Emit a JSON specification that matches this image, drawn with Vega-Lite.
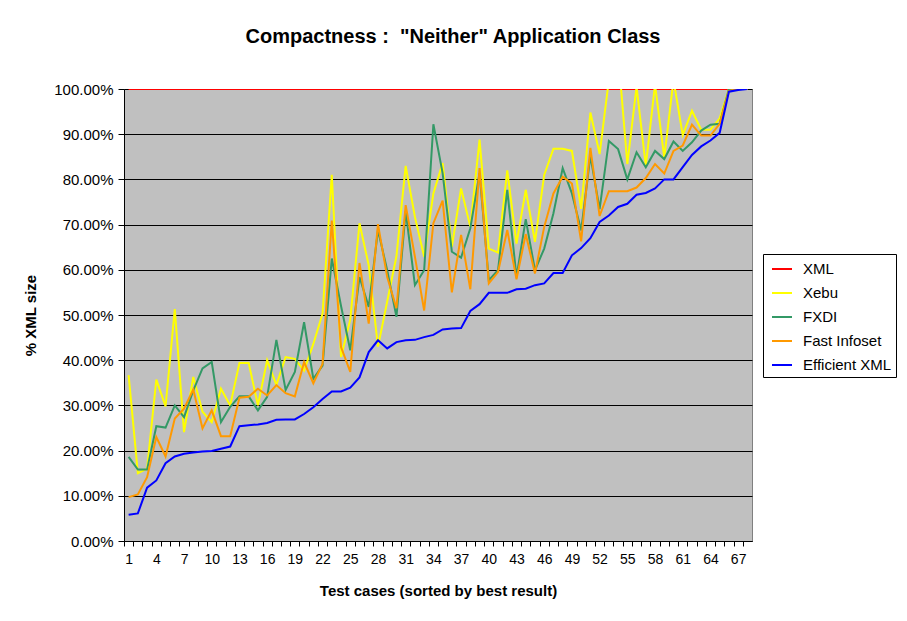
{
  "$schema": "https://vega.github.io/schema/vega-lite/v6.json",
  "width": 628,
  "height": 452,
  "autosize": {"type": "none"},
  "padding": {"left": 124, "top": 89, "right": 155, "bottom": 80},
  "background": "white",
  "config": {
    "view": {"fill": "#C0C0C0", "stroke": "#808080", "strokeWidth": 1},
    "font": "Liberation Sans"
  },
  "title": {
    "text": "Compactness :\u00a0 \"Neither\" Application Class",
    "fontSize": 20,
    "fontWeight": "bold",
    "font": "Liberation Sans",
    "color": "black",
    "anchor": "middle",
    "dx": 15,
    "offset": 35
  },
  "data": {
    "values": [
      {"k": 1, "XML": 1, "Xebu": 0.367, "FXDI": 0.186, "FI": 0.097, "EXI": 0.058},
      {"k": 2, "XML": 1, "Xebu": 0.150, "FXDI": 0.158, "FI": 0.103, "EXI": 0.061},
      {"k": 3, "XML": 1, "Xebu": 0.160, "FXDI": 0.158, "FI": 0.141, "EXI": 0.118},
      {"k": 4, "XML": 1, "Xebu": 0.357, "FXDI": 0.254, "FI": 0.230, "EXI": 0.134},
      {"k": 5, "XML": 1, "Xebu": 0.298, "FXDI": 0.251, "FI": 0.187, "EXI": 0.172},
      {"k": 6, "XML": 1, "Xebu": 0.513, "FXDI": 0.300, "FI": 0.271, "EXI": 0.187},
      {"k": 7, "XML": 1, "Xebu": 0.241, "FXDI": 0.274, "FI": 0.293, "EXI": 0.193},
      {"k": 8, "XML": 1, "Xebu": 0.363, "FXDI": 0.333, "FI": 0.335, "EXI": 0.196},
      {"k": 9, "XML": 1, "Xebu": 0.286, "FXDI": 0.382, "FI": 0.249, "EXI": 0.198},
      {"k": 10, "XML": 1, "Xebu": 0.263, "FXDI": 0.396, "FI": 0.289, "EXI": 0.199},
      {"k": 11, "XML": 1, "Xebu": 0.337, "FXDI": 0.263, "FI": 0.232, "EXI": 0.204},
      {"k": 12, "XML": 1, "Xebu": 0.300, "FXDI": 0.297, "FI": 0.232, "EXI": 0.209},
      {"k": 13, "XML": 1, "Xebu": 0.394, "FXDI": 0.320, "FI": 0.317, "EXI": 0.254},
      {"k": 14, "XML": 1, "Xebu": 0.394, "FXDI": 0.320, "FI": 0.319, "EXI": 0.256},
      {"k": 15, "XML": 1, "Xebu": 0.300, "FXDI": 0.289, "FI": 0.337, "EXI": 0.258},
      {"k": 16, "XML": 1, "Xebu": 0.400, "FXDI": 0.319, "FI": 0.322, "EXI": 0.261},
      {"k": 17, "XML": 1, "Xebu": 0.345, "FXDI": 0.445, "FI": 0.345, "EXI": 0.268},
      {"k": 18, "XML": 1, "Xebu": 0.407, "FXDI": 0.334, "FI": 0.327, "EXI": 0.269},
      {"k": 19, "XML": 1, "Xebu": 0.403, "FXDI": 0.374, "FI": 0.320, "EXI": 0.269},
      {"k": 20, "XML": 1, "Xebu": 0.377, "FXDI": 0.484, "FI": 0.396, "EXI": 0.281},
      {"k": 21, "XML": 1, "Xebu": 0.436, "FXDI": 0.359, "FI": 0.349, "EXI": 0.296},
      {"k": 22, "XML": 1, "Xebu": 0.503, "FXDI": 0.388, "FI": 0.392, "EXI": 0.314},
      {"k": 23, "XML": 1, "Xebu": 0.810, "FXDI": 0.625, "FI": 0.709, "EXI": 0.331},
      {"k": 24, "XML": 1, "Xebu": 0.407, "FXDI": 0.520, "FI": 0.429, "EXI": 0.331},
      {"k": 25, "XML": 1, "Xebu": 0.490, "FXDI": 0.422, "FI": 0.374, "EXI": 0.339},
      {"k": 26, "XML": 1, "Xebu": 0.703, "FXDI": 0.584, "FI": 0.615, "EXI": 0.362},
      {"k": 27, "XML": 1, "Xebu": 0.610, "FXDI": 0.518, "FI": 0.481, "EXI": 0.418},
      {"k": 28, "XML": 1, "Xebu": 0.430, "FXDI": 0.688, "FI": 0.701, "EXI": 0.444},
      {"k": 29, "XML": 1, "Xebu": 0.530, "FXDI": 0.599, "FI": 0.584, "EXI": 0.426},
      {"k": 30, "XML": 1, "Xebu": 0.630, "FXDI": 0.496, "FI": 0.515, "EXI": 0.440},
      {"k": 31, "XML": 1, "Xebu": 0.830, "FXDI": 0.730, "FI": 0.743, "EXI": 0.444},
      {"k": 32, "XML": 1, "Xebu": 0.717, "FXDI": 0.566, "FI": 0.629, "EXI": 0.445},
      {"k": 33, "XML": 1, "Xebu": 0.629, "FXDI": 0.599, "FI": 0.510, "EXI": 0.451},
      {"k": 34, "XML": 1, "Xebu": 0.769, "FXDI": 0.922, "FI": 0.703, "EXI": 0.456},
      {"k": 35, "XML": 1, "Xebu": 0.836, "FXDI": 0.814, "FI": 0.753, "EXI": 0.468},
      {"k": 36, "XML": 1, "Xebu": 0.651, "FXDI": 0.640, "FI": 0.550, "EXI": 0.470},
      {"k": 37, "XML": 1, "Xebu": 0.780, "FXDI": 0.627, "FI": 0.677, "EXI": 0.471},
      {"k": 38, "XML": 1, "Xebu": 0.695, "FXDI": 0.692, "FI": 0.557, "EXI": 0.509},
      {"k": 39, "XML": 1, "Xebu": 0.888, "FXDI": 0.814, "FI": 0.825, "EXI": 0.524},
      {"k": 40, "XML": 1, "Xebu": 0.647, "FXDI": 0.577, "FI": 0.570, "EXI": 0.549},
      {"k": 41, "XML": 1, "Xebu": 0.638, "FXDI": 0.599, "FI": 0.595, "EXI": 0.549},
      {"k": 42, "XML": 1, "Xebu": 0.820, "FXDI": 0.777, "FI": 0.688, "EXI": 0.549},
      {"k": 43, "XML": 1, "Xebu": 0.658, "FXDI": 0.584, "FI": 0.579, "EXI": 0.557},
      {"k": 44, "XML": 1, "Xebu": 0.777, "FXDI": 0.712, "FI": 0.679, "EXI": 0.558},
      {"k": 45, "XML": 1, "Xebu": 0.662, "FXDI": 0.599, "FI": 0.592, "EXI": 0.566},
      {"k": 46, "XML": 1, "Xebu": 0.810, "FXDI": 0.647, "FI": 0.695, "EXI": 0.570},
      {"k": 47, "XML": 1, "Xebu": 0.868, "FXDI": 0.725, "FI": 0.769, "EXI": 0.593},
      {"k": 48, "XML": 1, "Xebu": 0.868, "FXDI": 0.825, "FI": 0.806, "EXI": 0.593},
      {"k": 49, "XML": 1, "Xebu": 0.863, "FXDI": 0.769, "FI": 0.791, "EXI": 0.632},
      {"k": 50, "XML": 1, "Xebu": 0.735, "FXDI": 0.687, "FI": 0.663, "EXI": 0.648},
      {"k": 51, "XML": 1, "Xebu": 0.948, "FXDI": 0.852, "FI": 0.870, "EXI": 0.670},
      {"k": 52, "XML": 1, "Xebu": 0.856, "FXDI": 0.734, "FI": 0.719, "EXI": 0.706},
      {"k": 53, "XML": 1, "Xebu": 1.020, "FXDI": 0.885, "FI": 0.774, "EXI": 0.720},
      {"k": 54, "XML": 1, "Xebu": 1.080, "FXDI": 0.867, "FI": 0.774, "EXI": 0.739},
      {"k": 55, "XML": 1, "Xebu": 0.834, "FXDI": 0.800, "FI": 0.774, "EXI": 0.746},
      {"k": 56, "XML": 1, "Xebu": 1.005, "FXDI": 0.860, "FI": 0.782, "EXI": 0.766},
      {"k": 57, "XML": 1, "Xebu": 0.830, "FXDI": 0.827, "FI": 0.803, "EXI": 0.770},
      {"k": 58, "XML": 1, "Xebu": 1.010, "FXDI": 0.863, "FI": 0.834, "EXI": 0.780},
      {"k": 59, "XML": 1, "Xebu": 0.848, "FXDI": 0.845, "FI": 0.813, "EXI": 0.800},
      {"k": 60, "XML": 1, "Xebu": 1.020, "FXDI": 0.884, "FI": 0.863, "EXI": 0.800},
      {"k": 61, "XML": 1, "Xebu": 0.898, "FXDI": 0.863, "FI": 0.875, "EXI": 0.827},
      {"k": 62, "XML": 1, "Xebu": 0.952, "FXDI": 0.882, "FI": 0.921, "EXI": 0.854},
      {"k": 63, "XML": 1, "Xebu": 0.910, "FXDI": 0.908, "FI": 0.897, "EXI": 0.873},
      {"k": 64, "XML": 1, "Xebu": 0.910, "FXDI": 0.921, "FI": 0.897, "EXI": 0.886},
      {"k": 65, "XML": 1, "Xebu": 0.935, "FXDI": 0.923, "FI": 0.923, "EXI": 0.903},
      {"k": 66, "XML": 1, "Xebu": 1.000, "FXDI": 1.000, "FI": 0.996, "EXI": 0.994},
      {"k": 67, "XML": 1, "Xebu": 1.000, "FXDI": 1.000, "FI": 1.000, "EXI": 0.998},
      {"k": 68, "XML": 1, "Xebu": 1.000, "FXDI": 1.000, "FI": 1.000, "EXI": 1.000}
    ]
  },
  "encoding": {
    "x": {
      "field": "k",
      "type": "ordinal",
      "scale": {"type": "point", "padding": 0.5},
      "axis": {
        "title": "Test cases (sorted by best result)",
        "labelExpr": "(datum.value - 1) % 3 == 0 ? datum.label : ''",
        "labelAngle": 0,
        "labelOverlap": false,
        "labelFontSize": 14,
        "labelColor": "black",
        "labelPadding": 6,
        "tickOffset": -4.6176,
        "labelOffset": 4.6176,
        "tickSize": 5,
        "tickColor": "black",
        "domainColor": "black",
        "grid": false,
        "titleFontSize": 15,
        "titleFontWeight": "bold",
        "titleColor": "black",
        "titleX": 314,
        "titleY": 49,
        "titleBaseline": "middle",
        "titleAlign": "center"
      }
    }
  },
  "layer": [
    {
      "mark": {"type": "line", "clip": true, "strokeWidth": 2},
      "encoding": {
        "y": {
          "field": "XML",
          "type": "quantitative",
          "title": "% XML size",
          "scale": {"domain": [0, 1], "nice": false, "zero": true},
          "axis": {
            "values": [0, 0.1, 0.2, 0.3, 0.4, 0.5, 0.6, 0.7, 0.8, 0.9, 1],
            "format": ".2%",
            "grid": true,
            "gridColor": "black",
            "gridOpacity": 1,
            "gridWidth": 1,
            "domainColor": "black",
            "tickColor": "black",
            "tickSize": 6,
            "labelPadding": 5,
            "labelFontSize": 15,
            "labelColor": "black",
            "titleFontSize": 15,
            "titleFontWeight": "bold",
            "titleColor": "black",
            "titleX": -94,
            "titleY": 226,
            "titleAngle": 270,
            "titleAlign": "center",
            "titleBaseline": "middle"
          }
        },
        "color": {
          "datum": "XML",
          "type": "nominal",
          "scale": {
            "domain": ["XML", "Xebu", "FXDI", "Fast Infoset", "Efficient XML"],
            "range": ["#FF0000", "#FFFF00", "#339966", "#FF9900", "#0000FF"]
          },
          "legend": {
            "title": null,
            "orient": "none",
            "legendX": 639,
            "legendY": 165,
            "strokeColor": "black",
            "fillColor": "white",
            "padding": 4,
            "symbolType": "stroke",
            "symbolSize": 400,
            "symbolStrokeWidth": 2,
            "symbolOffset": 4,
            "labelOffset": 10,
            "labelFontSize": 15,
            "labelColor": "black",
            "rowPadding": 5
          }
        }
      }
    },
    {
      "mark": {"type": "line", "clip": true, "strokeWidth": 2},
      "encoding": {
        "y": {"field": "Xebu", "type": "quantitative", "title": "% XML size"},
        "color": {"datum": "Xebu", "type": "nominal"}
      }
    },
    {
      "mark": {"type": "line", "clip": true, "strokeWidth": 2},
      "encoding": {
        "y": {"field": "FXDI", "type": "quantitative", "title": "% XML size"},
        "color": {"datum": "FXDI", "type": "nominal"}
      }
    },
    {
      "mark": {"type": "line", "clip": true, "strokeWidth": 2},
      "encoding": {
        "y": {"field": "FI", "type": "quantitative", "title": "% XML size"},
        "color": {"datum": "Fast Infoset", "type": "nominal"}
      }
    },
    {
      "mark": {"type": "line", "clip": true, "strokeWidth": 2},
      "encoding": {
        "y": {"field": "EXI", "type": "quantitative", "title": "% XML size"},
        "color": {"datum": "Efficient XML", "type": "nominal"}
      }
    }
  ]
}
